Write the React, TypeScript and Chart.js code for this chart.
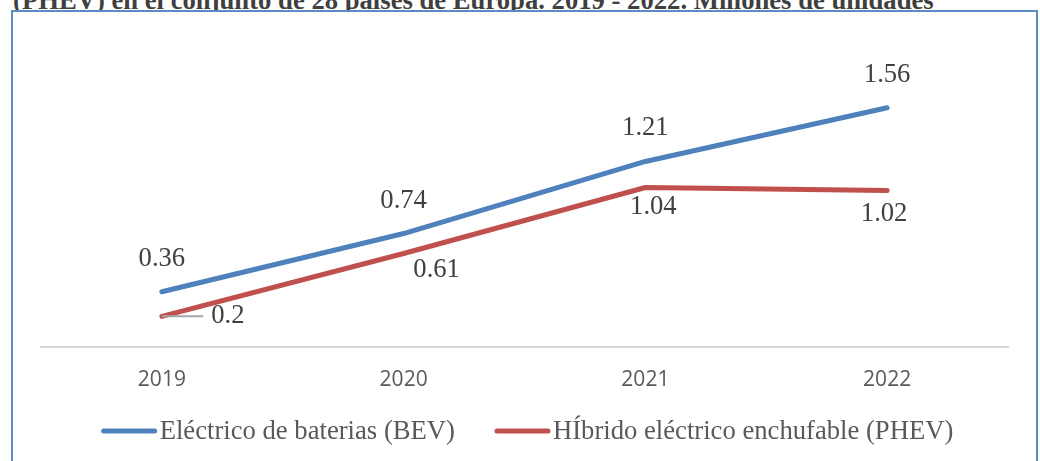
import React, { useEffect, useRef } from "react";
import { Chart, registerables } from "chart.js";

Chart.register(...registerables);

// ---- data ----
const years = ["2019", "2020", "2021", "2022"];
const bevValues = [0.36, 0.74, 1.21, 1.56];
const phevValues = [0.2, 0.61, 1.04, 1.02];
const seriesNames = ["Eléctrico de baterias (BEV)", "HÍbrido eléctrico enchufable (PHEV)"];
const titleText =
  "(PHEV) en el conjunto de 28 países de Europa. 2019 - 2022. Millones de unidades";
const yMin = 0;
const yMax = 1.8;

// ---- styles ----
const SERIF = '"Liberation Serif", "Times New Roman", serif';
const SANS = '"Open Sans", "Liberation Sans", sans-serif';
const BLUE = "#4F81BD";
const RED = "#C0504D";
const LABEL_FONT = `26.67px ${SERIF}`;

// label offsets (dx, dy) from each point, per series
const labelOffsets = [
  [[0, -33], [0, -33], [0, -33], [0, -33]],
  [[66, 0], [33, 17], [8, 19], [-3, 23]],
];

const dataLabelPlugin = {
  id: "dataLabels",
  afterDatasetsDraw(chart: any) {
    const ctx = chart.ctx;
    ctx.save();
    ctx.font = LABEL_FONT;
    ctx.textAlign = "center";
    ctx.textBaseline = "middle";
    chart.data.datasets.forEach((ds: any, di: number) => {
      const meta = chart.getDatasetMeta(di);
      meta.data.forEach((pt: any, i: number) => {
        const [dx, dy] = labelOffsets[di][i];
        const x = pt.x + dx;
        const y = pt.y + dy;
        const text = String(ds.data[i]);
        if (Math.abs(dx) > 40) {
          // leader line
          ctx.strokeStyle = "#A6A6A6";
          ctx.lineWidth = 2;
          ctx.beginPath();
          ctx.moveTo(pt.x, pt.y);
          const w = ctx.measureText(text).width;
          ctx.lineTo(x - w / 2 - 8, y);
          ctx.stroke();
        }
        ctx.fillStyle = "#404040";
        ctx.fillText(text, x, y);
      });
    });
    ctx.restore();
  },
};

const legendPlugin = {
  id: "lineLegend",
  afterDraw(chart: any) {
    const ctx = chart.ctx;
    ctx.save();
    ctx.font = LABEL_FONT;
    const lineLen = 55;
    const gapText = 3;
    const gapItems = 40;
    const items = chart.data.datasets.map((ds: any) => ({
      label: ds.label,
      color: ds.borderColor,
      w: lineLen + gapText + ctx.measureText(ds.label).width,
    }));
    const total =
      items.reduce((s: number, it: any) => s + it.w, 0) + gapItems * (items.length - 1);
    const cx = (chart.chartArea.left + chart.chartArea.right) / 2 + 3;
    let x = cx - total / 2;
    const y = 431;
    items.forEach((it: any) => {
      ctx.strokeStyle = it.color;
      ctx.lineWidth = 5;
      ctx.lineCap = "round";
      ctx.beginPath();
      ctx.moveTo(x + 2, y);
      ctx.lineTo(x + lineLen - 2, y);
      ctx.stroke();
      ctx.fillStyle = "#595959";
      ctx.textAlign = "left";
      ctx.textBaseline = "middle";
      ctx.fillText(it.label, x + lineLen + gapText, y + 1);
      x += it.w + gapItems;
    });
    ctx.restore();
  },
};

export default function App() {
  const canvasRef = useRef<HTMLCanvasElement | null>(null);

  useEffect(() => {
    if (!canvasRef.current) return;
    const chart = new Chart(canvasRef.current, {
      type: "line",
      data: {
        labels: years,
        datasets: [
          {
            label: seriesNames[0],
            data: bevValues,
            borderColor: BLUE,
            backgroundColor: BLUE,
            borderWidth: 5,
            borderCapStyle: "round",
            borderJoinStyle: "round",
            pointRadius: 0,
            tension: 0,
          },
          {
            label: seriesNames[1],
            data: phevValues,
            borderColor: RED,
            backgroundColor: RED,
            borderWidth: 5,
            borderCapStyle: "round",
            borderJoinStyle: "round",
            pointRadius: 0,
            tension: 0,
          },
        ],
      },
      options: {
        responsive: false,
        animation: false,
        devicePixelRatio: 1,
        layout: { padding: { left: 41, right: 32, top: 71, bottom: 69 } },
        plugins: {
          legend: { display: false },
          tooltip: { enabled: false },
          title: { display: false },
        },
        scales: {
          x: {
            type: "category",
            offset: true,
            grid: { display: false, drawTicks: false },
            border: { display: true, color: "#D9D9D9", width: 2 },
            ticks: {
              color: "#595959",
              font: { family: SANS, size: 21 },
              padding: 20,
            },
            afterFit: (scale: any) => {
              scale.height = 45;
            },
          },
          y: {
            display: false,
            min: yMin,
            max: yMax,
          },
        },
      },
      plugins: [dataLabelPlugin, legendPlugin],
    });
    return () => chart.destroy();
  }, []);

  return (
    <div
      style={{
        position: "absolute",
        left: 0,
        top: 0,
        width: 1040,
        height: 461,
        overflow: "hidden",
        background: "#fff",
      }}
    >
      <div
        style={{
          position: "absolute",
          left: 13,
          top: -13,
          whiteSpace: "nowrap",
          font: `bold 26.67px ${SERIF}`,
          lineHeight: 1,
          color: "#3F3F3F",
        }}
      >
        {titleText}
      </div>
      <div
        style={{
          position: "absolute",
          left: 11,
          top: 10,
          width: 1027,
          height: 500,
          boxSizing: "border-box",
          border: "2px solid #5B8AC6",
          background: "#fff",
        }}
      />
      <canvas
        ref={canvasRef}
        width={1040}
        height={461}
        style={{ position: "absolute", left: 0, top: 0, width: 1040, height: 461 }}
      />
    </div>
  );
}
